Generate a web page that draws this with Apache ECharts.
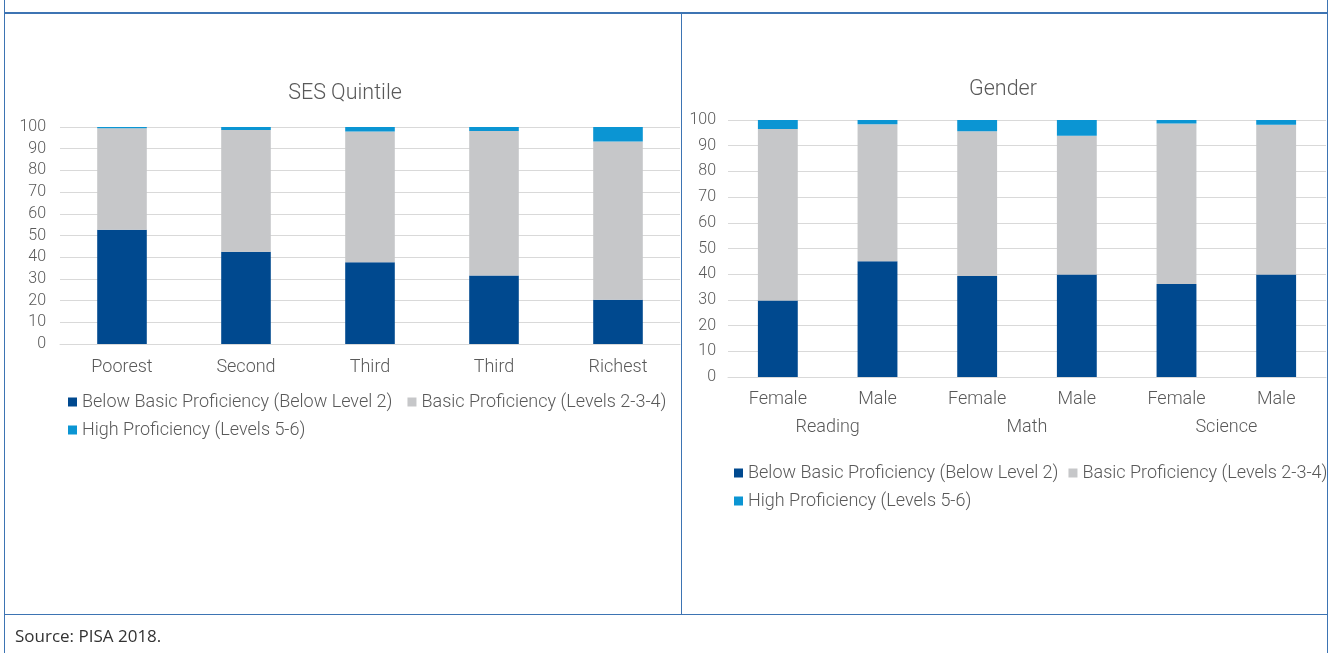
<!DOCTYPE html>
<html><head><meta charset="utf-8">
<script src="https://cdn.jsdelivr.net/npm/echarts@6/dist/echarts.min.js"></script>
<style>
html,body{margin:0;padding:0;background:#fff;}
#wrap{position:relative;width:1338px;height:653px;overflow:hidden;}
#chart{position:absolute;left:0;top:0;width:1338px;height:653px;}
.ln{position:absolute;background:#3d74b3;}
#src{position:absolute;left:15px;top:624px;font-family:"Open Sans","Noto Sans",sans-serif;font-size:17px;line-height:24px;color:#333;}
</style></head>
<body><div id="wrap">
<div class="ln" style="left:4px;top:0;width:1px;height:653px"></div>
<div class="ln" style="left:1327px;top:0;width:1px;height:653px"></div>
<div class="ln" style="left:4px;top:12px;width:1324px;height:2px"></div>
<div class="ln" style="left:681px;top:12px;width:1px;height:602px"></div>
<div class="ln" style="left:4px;top:614px;width:1324px;height:1px"></div>
<div id="chart"></div>
<div id="src">Source: PISA 2018.</div>
</div>
<script>
const seriesNames = ['Below Basic Proficiency (Below Level 2)','Basic Proficiency (Levels 2-3-4)','High Proficiency (Levels 5-6)'];
const sesCategories = ['Poorest','Second','Third','Third','Richest'];
const sesBelow = [52.6, 42.5, 37.7, 31.6, 20.4];
const sesBasic = [46.8, 56.1, 60.2, 66.6, 72.9];
const sesHigh  = [0.6, 1.4, 2.1, 1.8, 6.7];
const genderCategories = ['Female','Male','Female','Male','Female','Male'];
const subjectCategories = ['Reading','Math','Science'];
const genBelow = [29.8, 45.0, 39.3, 39.9, 36.2, 39.9];
const genBasic = [66.7, 53.3, 56.3, 54.0, 62.4, 58.3];
const genHigh  = [3.5, 1.7, 4.4, 6.1, 1.4, 1.8];
const yTicks = [0,10,20,30,40,50,60,70,80,90,100];

const colors = ['#00498f','#c6c7c9','#0b95d3'];
const FONT = 'Roboto';
const txt = '#595959';

const chart = echarts.init(document.getElementById('chart'), null, {renderer:'canvas'});
function yAxis(gi, margin){
  return {type:'value', gridIndex:gi, min:yTicks[0], max:yTicks[yTicks.length-1], interval:10,
    axisLine:{show:false}, axisTick:{show:false},
    axisLabel:{color:txt, fontSize:16, fontFamily:FONT, fontWeight:300, margin:margin},
    splitLine:{lineStyle:{color:'#d9d9d9', width:1}}};
}
function mk(name, data, xi, yi){
  return {name:name, type:'bar', stack:'s'+xi, xAxisIndex:xi, yAxisIndex:yi, data:data, barWidth:'40%',
    itemStyle:{color:colors[seriesNames.indexOf(name)]}};
}
const legendText = {color:txt, fontSize:18, fontFamily:FONT, fontWeight:300};
const xLab = {color:txt, fontSize:18, fontFamily:FONT, fontWeight:300};
function lg(left, top, names, gap){
  return {left:left, top:top, padding:0, icon:'rect', itemWidth:9, itemHeight:9, itemGap:gap, textStyle:legendText, selectedMode:false, data:names};
}
chart.setOption({
  animation:false,
  color:colors,
  title:[
    {text:'SES Quintile', left:340, top:78, textAlign:'center', textStyle:{color:txt, fontSize:21.5, fontWeight:300, fontFamily:FONT}},
    {text:'Gender', left:998, top:74, textAlign:'center', textStyle:{color:txt, fontSize:21.5, fontWeight:300, fontFamily:FONT}}
  ],
  grid:[
    {left:60, width:620, top:127, height:217},
    {left:728, width:598, top:120, height:257}
  ],
  xAxis:[
    {type:'category', gridIndex:0, data:sesCategories, axisLine:{lineStyle:{color:'#d9d9d9'}}, axisTick:{show:false},
      axisLabel:Object.assign({margin:14}, xLab)},
    {type:'category', gridIndex:1, data:genderCategories, axisLine:{lineStyle:{color:'#d9d9d9'}}, axisTick:{show:false},
      axisLabel:Object.assign({margin:13}, xLab)},
    {type:'category', gridIndex:1, position:'bottom', offset:28, data:subjectCategories, axisLine:{show:false}, axisTick:{show:false},
      axisLabel:Object.assign({margin:13}, xLab)}
  ],
  yAxis:[yAxis(0,14), yAxis(1,12)],
  legend:[
    lg(68, 393, seriesNames.slice(0,2), 15),
    lg(68, 421, seriesNames.slice(2), 15),
    lg(734, 464, seriesNames.slice(0,2), 10),
    lg(734, 492, seriesNames.slice(2), 10)
  ],
  series:[
    mk(seriesNames[0], sesBelow, 0, 0),
    mk(seriesNames[1], sesBasic, 0, 0),
    mk(seriesNames[2], sesHigh, 0, 0),
    mk(seriesNames[0], genBelow, 1, 1),
    mk(seriesNames[1], genBasic, 1, 1),
    mk(seriesNames[2], genHigh, 1, 1)
  ]
});
</script>
</body></html>
